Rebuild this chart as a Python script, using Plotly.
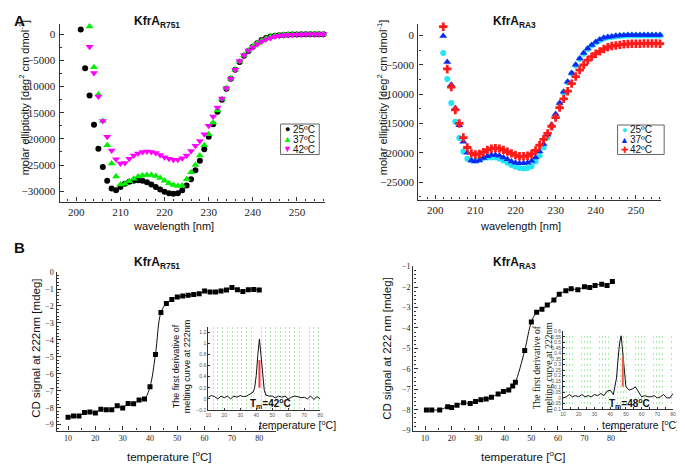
import plotly.graph_objects as go

# page body keeps a default 8px margin, so the figure is drawn 8px in from the corner
PAGE_W, PAGE_H, OFF = 685, 468, 8
W, H = PAGE_W - OFF, PAGE_H - OFF
SANS = "Liberation Sans, Arial, sans-serif"
SERIF = "Liberation Serif, Times New Roman, serif"

# ---------------- A: CD spectra ----------------
wl_r751_25 = list(range(201, 257))
r751_25 = [900, -6500, -11700, -17300, -21900, -25400, -28000, -29500, -29800, -29200,
           -28600, -28200, -28000, -27900, -28000, -28300, -28700, -29200, -29700, -30100,
           -30400, -30500, -30400, -29800, -28900, -27700, -26000, -24200, -22000, -19600,
           -17200, -14800, -12500, -10400, -8500, -6800, -5300, -4100, -3200, -2400,
           -1700, -1100, -700, -450, -300, -200, -120, -80, -50, -30,
           -20, -10, 0, 0, 0, 0]
wl_r751_hi = list(range(203, 257))
r751_37 = [1500, -6300, -11500, -16600, -21200, -24700, -27200, -28700, -28600, -28100,
           -27600, -27200, -27000, -26900, -26900, -27100, -27500, -28000, -28500, -28800,
           -29000, -28900, -27700, -26400, -25000, -23200, -21200, -19100, -16900, -14600,
           -12400, -10300, -8500, -6800, -5200, -4000, -3100, -2300, -1700, -1200,
           -800, -500, -300, -200, -100, -60, -30, -20, 0, 0,
           0, 0, 0, 0]
r751_42 = [-2400, -7400, -11900, -16600, -19600, -22200, -23900, -24700, -24600, -23800,
           -23200, -22800, -22500, -22400, -22500, -22700, -23100, -23500, -23800, -24000,
           -24000, -23700, -23200, -22300, -21300, -20400, -19100, -17500, -15700, -14000,
           -12300, -10300, -8500, -6800, -5100, -4000, -3100, -2500, -1900, -1400,
           -1000, -700, -450, -300, -200, -120, -80, -50, -30, -20,
           -10, 0, 0, 0]

wl_ra3_lo = list(range(202, 257))
ra3_25 = [-3000, -7400, -11500, -14700, -17500, -19800, -21000, -21300, -21300, -21100,
          -20900, -20800, -20800, -20800, -21000, -21300, -21700, -22100, -22400, -22600,
          -22700, -22600, -22300, -21500, -20500, -19100, -17400, -15600, -13700, -11700,
          -9700, -8000, -6500, -5100, -4000, -3100, -2300, -1700, -1200, -800,
          -500, -350, -250, -150, -100, -50, 0, 0, 0, 0,
          0, 0, 0, 0, 0]
ra3_37 = [-100, -4500, -8400, -12400, -15300, -18100, -20000, -21300, -21500, -21300,
          -20900, -20600, -20400, -20400, -20500, -20800, -21100, -21500, -21700, -21800,
          -21800, -21700, -21400, -20800, -19800, -18500, -16900, -15200, -13400, -11500,
          -9600, -7900, -6400, -5000, -3900, -3000, -2200, -1600, -1100, -700,
          -400, -250, -150, -50, 0, 50, 100, 100, 100, 100,
          100, 100, 100, 100, 100]
wl_ra3_42 = list(range(201, 257))
ra3_42 = [2100, 1500, -5700, -8800, -12700, -15000, -17400, -19100, -20100, -20300,
          -20200, -19900, -19500, -19300, -19200, -19300, -19500, -19800, -20100, -20400,
          -20600, -20600, -20500, -20200, -19600, -18700, -17700, -16700, -15500, -14000,
          -12300, -10800, -9500, -8200, -7000, -5900, -5000, -4200, -3600, -3100,
          -2700, -2300, -2000, -1800, -1700, -1600, -1500, -1450, -1400, -1400,
          -1400, -1350, -1350, -1350, -1350, -1400]

# ---------------- B: melting curves ----------------
temp_r751 = list(range(10, 81, 2))
cd_r751 = [-8.57, -8.49, -8.49, -8.28, -8.25, -8.31, -8.09, -8.12, -8.12, -7.89,
           -8.02, -7.75, -7.77, -7.54, -7.48, -6.76, -4.86, -2.38, -1.85, -1.62,
           -1.47, -1.41, -1.36, -1.32, -1.28, -1.12, -1.17, -1.17, -1.12, -1.05,
           -0.91, -1.04, -1.14, -1.04, -1.02, -1.05]

temp_ra3 = [10.5, 12.5, 15.5, 18.5, 20, 22, 24.5, 27, 29, 31, 33, 35, 37.5, 39.5, 41.5,
            43, 44, 47.5, 50, 52, 54, 56, 58.5, 60.5, 63, 65, 67.5, 70, 72, 74, 76.5,
            78.5, 80.5]
cd_ra3 = [-8.01, -8.01, -8.01, -7.86, -7.89, -7.78, -7.66, -7.70, -7.60, -7.51,
          -7.47, -7.39, -7.23, -7.11, -7.03, -6.84, -6.65, -5.10, -3.71, -3.23,
          -3.09, -2.88, -2.63, -2.35, -2.18, -2.08, -2.13, -1.99, -2.02, -1.92,
          -1.86, -1.92, -1.73]

# first derivative insets
dtemp_r751 = [10, 12, 14, 16, 18, 20, 22, 24, 26, 28, 30, 32, 34, 36, 38, 39, 40, 41,
              42, 43, 44, 45, 46, 48, 50, 52, 54, 56, 58, 60, 62, 64, 66, 68, 70, 72,
              74, 76, 78, 80]
deriv_r751 = [0.03, 0.06, 0.04, 0.0, 0.05, 0.02, 0.05, 0.0, 0.05, 0.03, 0.06, 0.04,
              0.05, 0.08, 0.12, 0.2, 0.42, 0.8, 1.08, 0.78, 0.42, 0.16, 0.07, 0.05,
              0.05, 0.02, 0.05, 0.03, 0.05, 0.0, 0.03, 0.05, 0.04, 0.02, 0.03, 0.0,
              0.05, -0.01, 0.04, 0.0]
tm_r751 = 42
tm_bar_r751 = [0.2, 0.7]

dtemp_ra3 = [10, 12, 14, 16, 18, 20, 22, 24, 26, 28, 30, 32, 34, 36, 38, 40, 42, 44,
             45, 46, 47, 48, 49, 50, 52, 54, 56, 58, 60, 62, 64, 66, 68, 70, 72, 74,
             76, 78, 80]
deriv_ra3 = [0.0, 0.01, 0.03, 0.01, 0.02, 0.01, 0.03, 0.01, 0.02, 0.01, 0.03, 0.02,
             0.04, 0.02, 0.06, 0.07, 0.03, 0.18, 0.35, 0.5, 0.56, 0.42, 0.22, 0.1,
             0.07, 0.08, 0.1, 0.06, 0.01, 0.02, 0.01, 0.01, 0.02, 0.0, 0.01, 0.03,
             0.0, 0.0, 0.04]
tm_ra3 = 48
tm_bar_ra3 = [0.1, 0.37]


# page pixel -> paper fraction
def px(x):
    return (x - OFF) / W


def py(y):
    return 1 - (y - OFF) / H


def axis(x0, x1, rng, dtick, minor, size=11, **kw):
    d = dict(domain=[x0, x1], range=rng, dtick=dtick, showline=True, linecolor="#333",
             linewidth=1.4, ticks="inside", ticklen=4, tickcolor="#333", showgrid=False,
             zeroline=False, tickformat="d", tickfont=dict(family=SERIF, size=size, color="#222"),
             minor=dict(dtick=minor, ticks="inside", ticklen=2, tickcolor="#333"))
    d.update(kw)
    return d


fig = go.Figure()

# panel A left
fig.add_trace(go.Scatter(x=wl_r751_25, y=r751_25, mode="markers", xaxis="x", yaxis="y",
                         marker=dict(symbol="circle", size=6, color="#000000"), cliponaxis=False))
fig.add_trace(go.Scatter(x=wl_r751_hi, y=r751_37, mode="markers", xaxis="x", yaxis="y",
                         marker=dict(symbol="triangle-up", size=7, color="#00ee00"), cliponaxis=False))
fig.add_trace(go.Scatter(x=wl_r751_hi, y=r751_42, mode="markers", xaxis="x", yaxis="y",
                         marker=dict(symbol="triangle-down", size=7, color="#ff00ff"), cliponaxis=False))

# panel A right
fig.add_trace(go.Scatter(x=wl_ra3_lo, y=ra3_25, mode="markers", xaxis="x2", yaxis="y2",
                         marker=dict(symbol="circle", size=6, color="#22e6f6"), cliponaxis=False))
fig.add_trace(go.Scatter(x=wl_ra3_lo, y=ra3_37, mode="markers", xaxis="x2", yaxis="y2",
                         marker=dict(symbol="triangle-up", size=7, color="#0a2af0"), cliponaxis=False))
fig.add_trace(go.Scatter(x=wl_ra3_42, y=ra3_42, mode="markers", xaxis="x2", yaxis="y2",
                         marker=dict(symbol="cross", size=7, color="#ff1a1a"), cliponaxis=False))

# panel B
fig.add_trace(go.Scatter(x=temp_r751, y=cd_r751, mode="lines+markers", xaxis="x3", yaxis="y3",
                         line=dict(color="#111", width=1, shape="spline"),
                         marker=dict(symbol="square", size=5, color="#000")))
fig.add_trace(go.Scatter(x=temp_ra3, y=cd_ra3, mode="lines+markers", xaxis="x4", yaxis="y4",
                         line=dict(color="#111", width=1, shape="spline"),
                         marker=dict(symbol="square", size=5, color="#000")))

# insets
fig.add_trace(go.Scatter(x=dtemp_r751, y=deriv_r751, mode="lines", xaxis="x5", yaxis="y5",
                         line=dict(color="#111", width=1)))
fig.add_trace(go.Scatter(x=[tm_r751, tm_r751], y=tm_bar_r751, mode="lines", xaxis="x5", yaxis="y5",
                         line=dict(color="#ff3333", width=2)))
fig.add_trace(go.Scatter(x=dtemp_ra3, y=deriv_ra3, mode="lines", xaxis="x6", yaxis="y6",
                         line=dict(color="#111", width=1)))
fig.add_trace(go.Scatter(x=[tm_ra3, tm_ra3], y=tm_bar_ra3, mode="lines", xaxis="x6", yaxis="y6",
                         line=dict(color="#ff5555", width=2)))

inset_kw = dict(ticklen=2, linewidth=1, tickformat=None,
                tickfont=dict(family=SANS, size=5, color="#555"))

fig.update_layout(
    width=W, height=H, margin=dict(l=0, r=0, t=0, b=0),
    paper_bgcolor="white", plot_bgcolor="white", showlegend=False,
    xaxis=axis(px(57), px(325), [196.2, 256.4], 10, 2, anchor="y"),
    yaxis=axis(py(201), py(20), [-32000, 2000], 5000, 2500, anchor="x", ticklabelstandoff=1),
    xaxis2=axis(px(419), px(664), [195.8, 256.3], 10, 2, anchor="y2"),
    yaxis2=axis(py(199), py(20), [-28000, 2000], 5000, 2500, anchor="x2", ticklabelstandoff=1),
    xaxis3=axis(px(54), px(275), [5.8, 86], 10, 5, size=8, anchor="y3"),
    yaxis3=axis(py(434), py(272.7), [-9.35, 0], 1, 0.2, size=8, anchor="x3"),
    xaxis4=axis(px(414), px(630), [5.6, 86.2], 10, 5, size=8, anchor="y4"),
    yaxis4=axis(py(434), py(266.7), [-9.02, -0.98], 1, 0.2, size=8, anchor="x4"),
    xaxis5=dict(axis(px(207), px(320), [10, 80], 10, 3, anchor="y5", **inset_kw),
                minor=dict(dtick=3, tick0=10, showgrid=True, gridcolor="#a8eea8",
                           griddash="2px,2px", gridwidth=1)),
    yaxis5=axis(py(413), py(329), [-0.2, 1.29], 0.2, 0.2, anchor="x5", **inset_kw),
    xaxis6=axis(px(565), px(676), [10, 80], 10, 5, anchor="y6", **inset_kw),
    yaxis6=dict(axis(py(412), py(333), [-0.1, 0.6], 0.05, 0.05, anchor="x6", **inset_kw),
                showgrid=True, gridcolor="#a8eea8", gridwidth=2,
                griddash="1px,2px,1px,2px,1px,2px,1px,8px"),
)


def note(x, y, text, size=11, family=SANS, xanchor="center", **kw):
    return dict(x=px(x), y=py(y), xref="paper", yref="paper", text=text, showarrow=False,
                xanchor=xanchor, yanchor="middle",
                font=dict(family=family, size=size, color="#111"), **kw)


deg = "[<sup>o</sup>C]"
ann = [
    note(9, 17, "<b>A</b>", size=15, xanchor="left"),
    note(9, 248, "<b>B</b>", size=15, xanchor="left"),
    note(155, 18, "<b>KfrA<sub>R751</sub></b>", size=12),
    note(516, 18, "<b>KfrA<sub>RA3</sub></b>", size=12),
    note(155, 263, "<b>KfrA<sub>R751</sub></b>", size=12),
    note(516, 263, "<b>KfrA<sub>RA3</sub></b>", size=12),
    note(22, 95, "molar ellipticity [deg<sup>2</sup> cm dmol<sup>-1</sup>]", textangle=-90),
    note(383, 95, "molar ellipticity [deg<sup>2</sup> cm dmol<sup>-1</sup>]", textangle=-90),
    note(172, 226, "wavelength [nm]"),
    note(522, 226, "wavelength [nm]"),
    note(33, 350, "CD signal at 222nm [mdeg]", size=11.5, textangle=-90),
    note(387, 350, "CD signal at 222 nm [mdeg]", size=11.5, textangle=-90),
    note(167, 460, "temperature " + deg, size=11.5),
    note(525, 460, "temperature " + deg, size=11.5),
    note(297, 428, "temperature " + deg, size=10.5),
    note(684, 428, "temperature " + deg, size=10.5, xanchor="right"),
    note(180, 368, "The first derivative of<br>melting curve at 222nm", size=9, textangle=-90),
    note(544, 370, "The first derivative of<br>melting curve at 222nm", size=9.5,
         family=SERIF, textangle=-90),
    note(270, 406, "<b>T<sub>m</sub>=42<sup>o</sup>C</b>", size=10),
    note(632, 406, "<b>T<sub>m</sub>=48<sup>o</sup>C</b>", size=10),
]

# compact legends
legends = [
    ((280, 122, 319, 153), [("●", "#000000", "25ºC"), ("▲", "#00ee00", "37ºC"), ("▼", "#ff00ff", "42ºC")]),
    ((620, 123, 667, 153), [("●", "#22e6f6", "25ºC"), ("▲", "#0a2af0", "37ºC"), ("✚", "#ff1a1a", "42ºC")]),
]
shapes = []
for (x0, y0, x1, y1), rows in legends:
    shapes.append(dict(type="rect", xref="paper", yref="paper", x0=px(x0), x1=px(x1),
                       y0=py(y1), y1=py(y0), line=dict(color="#666", width=1),
                       fillcolor="white", layer="above"))
    step = (y1 - y0) / 3
    for i, (sym, col, lab) in enumerate(rows):
        yc = y0 + step * (i + 0.5)
        ann.append(note(x0 + 7, yc, f'<span style="color:{col}">{sym}</span>', size=9))
        ann.append(note(x0 + 11, yc, lab, size=10, xanchor="left"))

fig.update_layout(annotations=ann, shapes=shapes)
fig.write_html("out.html")
